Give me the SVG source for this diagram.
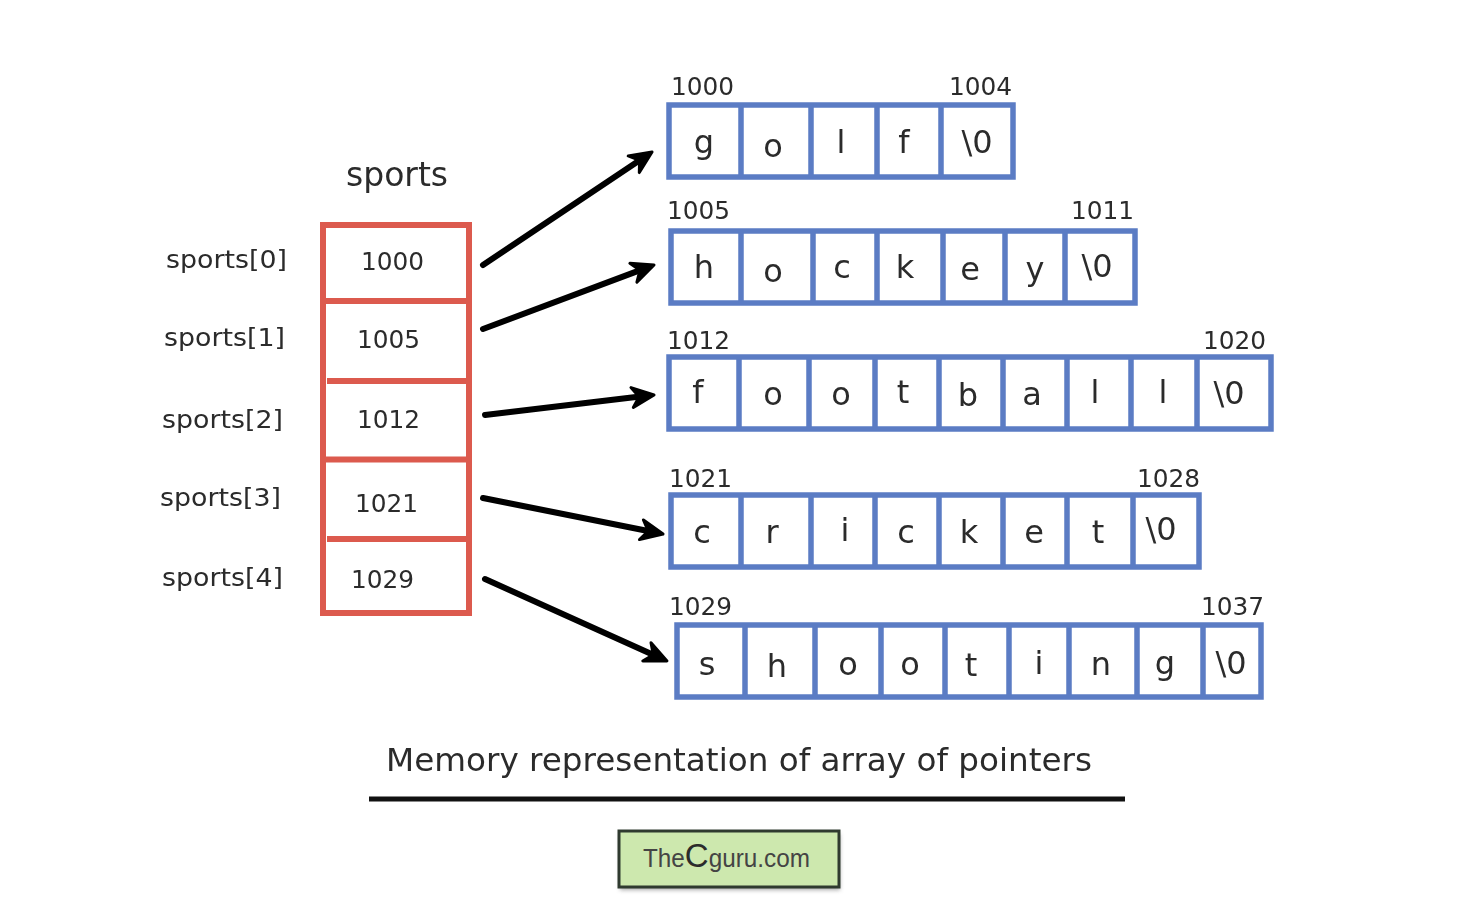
<svg xmlns="http://www.w3.org/2000/svg" width="1462" height="920" viewBox="0 0 1462 920">
<style>
text{font-family:"DejaVu Sans","Liberation Sans",sans-serif;fill:#2b2b2b}
.a{font-size:24.8px}
.l{font-size:25px}
.c{font-size:32px;text-anchor:middle}
.t{font-size:33px}
.cap{font-size:32px}
.box{fill:#fff;stroke:#5b7cc4;stroke-width:5.5}
.div{stroke:#5b7cc4;stroke-width:5.5;fill:none}
.rbox{fill:#fff;stroke:#dc5a4e;stroke-width:6}
.rdiv{stroke:#dc5a4e;stroke-width:6;fill:none}
.arrow{stroke:#000;stroke-width:6;stroke-linecap:round;fill:none;marker-end:url(#ah)}
</style>
<defs>
<filter id="sh" x="-10%" y="-10%" width="120%" height="130%"><feGaussianBlur stdDeviation="2"/></filter>
<marker id="ah" markerUnits="userSpaceOnUse" markerWidth="36" markerHeight="36" refX="10" refY="14" orient="auto" overflow="visible">
<path d="M2 4L24 14L2 24L9 14Z" fill="#000" stroke="#000" stroke-width="3" stroke-linejoin="round"/>
</marker>
</defs>
<rect width="1462" height="920" fill="#fff"/>
<g style="filter:blur(0.5px)">
<g id="pointer-array">
<text class="t" x="346" y="186">sports</text>
<rect class="rbox" x="323" y="225" width="146" height="388"/>
<path class="rdiv" d="M323 301H469M327 381H469M323 459.500H469M327 539H469"/>
<text class="a" x="361" y="270">1000</text>
<text class="a" x="357" y="348">1005</text>
<text class="a" x="357" y="428">1012</text>
<text class="a" x="355" y="512">1021</text>
<text class="a" x="351" y="588">1029</text>
</g>
<g id="index-labels">
<text class="l" x="166" y="268" textLength="121" lengthAdjust="spacingAndGlyphs">sports[0]</text>
<text class="l" x="164" y="346" textLength="121" lengthAdjust="spacingAndGlyphs">sports[1]</text>
<text class="l" x="162" y="428" textLength="121" lengthAdjust="spacingAndGlyphs">sports[2]</text>
<text class="l" x="160" y="506" textLength="121" lengthAdjust="spacingAndGlyphs">sports[3]</text>
<text class="l" x="162" y="586" textLength="121" lengthAdjust="spacingAndGlyphs">sports[4]</text>
</g>
<g id="connectors">
<path class="arrow" d="M483 265L640.400 159.800"/>
<path class="arrow" d="M483 329L640.900 269.900"/>
<path class="arrow" d="M485 415L640.100 396.600"/>
<path class="arrow" d="M483 498L649.300 531.300"/>
<path class="arrow" d="M485 579L654.200 655.200"/>
</g>
<g id="golf">
<rect class="box" x="669" y="105" width="344" height="72"/>
<path class="div" d="M741 105V177M811 105V177M877 105V177M941 105V177"/>
<text class="a" x="671" y="95">1000</text><text class="a" x="949" y="95">1004</text>
<text class="c" x="704" y="153">g</text><text class="c" x="773" y="157">o</text><text class="c" x="841" y="153">l</text><text class="c" x="904" y="153">f</text><text class="c" x="977" y="153">\0</text>
</g>
<g id="hockey">
<rect class="box" x="671" y="231" width="464" height="72"/>
<path class="div" d="M741 231V303M813 231V303M877 231V303M943 231V303M1005 231V303M1065 231V303"/>
<text class="a" x="667" y="219">1005</text><text class="a" x="1071" y="219">1011</text>
<text class="c" x="704" y="278">h</text><text class="c" x="773" y="282">o</text><text class="c" x="842" y="278">c</text><text class="c" x="905" y="278">k</text><text class="c" x="970" y="280">e</text><text class="c" x="1035" y="280">y</text><text class="c" x="1097" y="277">\0</text>
</g>
<g id="football">
<rect class="box" x="669" y="357" width="602" height="72"/>
<path class="div" d="M739 357V429M809 357V429M875 357V429M939 357V429M1003 357V429M1067 357V429M1131 357V429M1197 357V429"/>
<text class="a" x="667" y="349">1012</text><text class="a" x="1203" y="349">1020</text>
<text class="c" x="698" y="403">f</text><text class="c" x="773" y="405">o</text><text class="c" x="841" y="405">o</text><text class="c" x="903" y="403">t</text><text class="c" x="968" y="406">b</text><text class="c" x="1032" y="405">a</text><text class="c" x="1095" y="403">l</text><text class="c" x="1163" y="403">l</text><text class="c" x="1229" y="404">\0</text>
</g>
<g id="cricket">
<rect class="box" x="671" y="495" width="528" height="72"/>
<path class="div" d="M741 495V567M811 495V567M875 495V567M939 495V567M1003 495V567M1067 495V567M1133 495V567"/>
<text class="a" x="669" y="487">1021</text><text class="a" x="1137" y="487">1028</text>
<text class="c" x="702" y="543">c</text><text class="c" x="772" y="543">r</text><text class="c" x="845" y="541">i</text><text class="c" x="906" y="543">c</text><text class="c" x="969" y="543">k</text><text class="c" x="1034" y="543">e</text><text class="c" x="1098" y="543">t</text><text class="c" x="1161" y="540">\0</text>
</g>
<g id="shooting">
<rect class="box" x="677" y="625" width="584" height="72"/>
<path class="div" d="M745 625V697M815 625V697M881 625V697M945 625V697M1009 625V697M1069 625V697M1137 625V697M1203 625V697"/>
<text class="a" x="669" y="615">1029</text><text class="a" x="1201" y="615">1037</text>
<text class="c" x="707" y="675">s</text><text class="c" x="777" y="677">h</text><text class="c" x="848" y="675">o</text><text class="c" x="910" y="675">o</text><text class="c" x="971" y="676">t</text><text class="c" x="1039" y="674">i</text><text class="c" x="1101" y="675">n</text><text class="c" x="1165" y="674">g</text><text class="c" x="1231" y="674">\0</text>
</g>
<g id="caption">
<text class="cap" x="386" y="771" textLength="706" lengthAdjust="spacingAndGlyphs">Memory representation of array of pointers</text>
<path d="M369 799H1125" stroke="#111" stroke-width="5" fill="none"/>
</g>
<g id="logo">
<rect x="620" y="834" width="220" height="56" fill="#555" opacity=".5" filter="url(#sh)"/>
<rect x="619" y="831" width="220" height="56" fill="#cde8ae" stroke="#2f3a2f" stroke-width="3"/>
<text x="643" y="867" style="font-family:'Liberation Sans',sans-serif;font-size:25px;fill:#444" textLength="167" lengthAdjust="spacingAndGlyphs">The<tspan font-size="34" fill="#2b2b2b">C</tspan>guru.com</text>
</g>
</g>
</svg>
